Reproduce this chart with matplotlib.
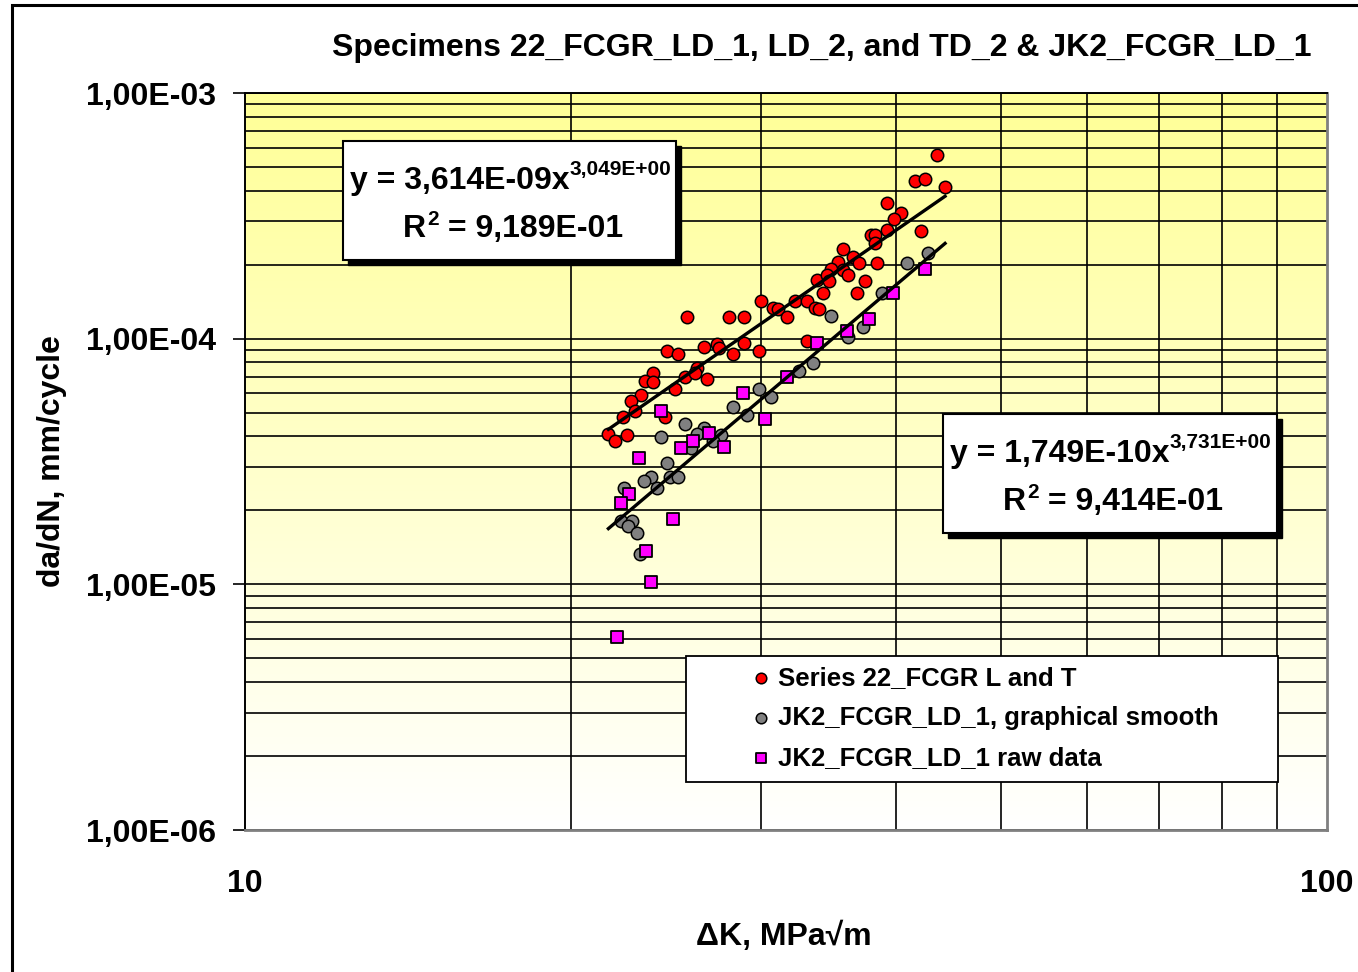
import numpy as np
import matplotlib
matplotlib.use("Agg")
import matplotlib.pyplot as plt
from matplotlib.patches import Rectangle
from matplotlib.ticker import FixedLocator, NullFormatter, FuncFormatter

plt.rcParams['font.family'] = ['Liberation Sans', 'DejaVu Sans']
plt.rcParams['font.weight'] = 'bold'

# Series 22_FCGR L and T: delta K (MPa*sqrt(m)) and da/dN (mm/cycle)
dk_22 = [43.59, 41.62, 42.52, 44.36, 39.19, 40.40, 39.82, 42.13, 39.19, 37.90,
         38.22, 38.22, 35.67, 36.50, 36.97, 38.36, 35.35, 34.78, 35.67, 36.12,
         33.76, 34.49, 34.67, 37.41, 34.20, 36.76, 29.96, 30.74, 31.11, 32.24,
         33.05, 33.64, 33.95, 31.67, 25.60, 28.03, 28.94, 33.05, 24.53, 25.15,
         26.58, 27.29, 27.42, 28.94, 28.23, 29.85, 23.81, 23.42, 23.81, 26.15,
         25.51, 26.06, 26.71, 24.97, 23.21, 22.72, 22.93, 22.34, 24.44, 21.67,
         21.98, 22.53]
dadn_22 = [5.59e-4, 4.38e-4, 4.47e-4, 4.15e-4, 3.58e-4, 3.26e-4, 3.07e-4, 2.75e-4, 2.77e-4, 2.64e-4,
           2.64e-4, 2.45e-4, 2.32e-4, 2.16e-4, 2.03e-4, 2.03e-4, 2.05e-4, 1.93e-4, 1.90e-4, 1.82e-4,
           1.73e-4, 1.82e-4, 1.71e-4, 1.72e-4, 1.53e-4, 1.53e-4, 1.42e-4, 1.33e-4, 1.32e-4, 1.42e-4,
           1.42e-4, 1.33e-4, 1.32e-4, 1.23e-4, 1.23e-4, 1.23e-4, 1.23e-4, 9.81e-5, 8.94e-5, 8.64e-5,
           9.27e-5, 9.49e-5, 9.14e-5, 9.63e-5, 8.64e-5, 8.91e-5, 7.28e-5, 6.72e-5, 6.64e-5, 7.57e-5,
           7.00e-5, 7.28e-5, 6.85e-5, 6.24e-5, 5.90e-5, 5.59e-5, 5.09e-5, 4.81e-5, 4.81e-5, 4.08e-5,
           3.84e-5, 4.05e-5]

# JK2_FCGR_LD_1, graphical smooth
dk_smooth = [42.81, 40.89, 38.82, 34.78, 37.24, 36.12, 33.48, 32.51, 29.85, 30.61,
             28.23, 29.12, 25.51, 26.58, 26.15, 27.54, 27.09, 25.84, 24.23, 24.53,
             23.71, 23.39, 24.70, 25.15, 24.01, 22.42, 22.25, 22.80, 22.61, 23.01,
             23.18]
dadn_smooth = [2.24e-4, 2.04e-4, 1.54e-4, 1.24e-4, 1.12e-4, 1.02e-4, 7.98e-5, 7.39e-5, 6.24e-5, 5.81e-5,
               5.28e-5, 4.89e-5, 4.48e-5, 4.32e-5, 4.08e-5, 4.05e-5, 3.83e-5, 3.58e-5, 3.99e-5, 3.13e-5,
               2.74e-5, 2.64e-5, 2.74e-5, 2.74e-5, 2.46e-5, 2.46e-5, 1.81e-5, 1.81e-5, 1.72e-5, 1.62e-5,
               1.33e-5]

# JK2_FCGR_LD_1 raw data
dk_raw = [42.52, 39.69, 37.76, 36.02, 33.76, 31.67, 28.84, 30.24, 24.23, 26.84,
          25.96, 25.28, 27.73, 23.13, 22.64, 22.25, 24.85, 23.50, 23.71, 22.05]
dadn_raw = [1.93e-4, 1.53e-4, 1.20e-4, 1.07e-4, 9.63e-5, 6.96e-5, 6.03e-5, 4.71e-5, 5.09e-5, 4.14e-5,
            3.83e-5, 3.58e-5, 3.63e-5, 3.26e-5, 2.33e-5, 2.15e-5, 1.85e-5, 1.37e-5, 1.02e-5, 6.12e-6]

# power-law trendlines y = C * x^m, with R^2
fit_22 = (3.614e-9, 3.049, 0.9189)
fit_jk2 = (1.749e-10, 3.731, 0.9414)

series_labels = ['Series 22_FCGR L and T',
                 'JK2_FCGR_LD_1, graphical smooth',
                 'JK2_FCGR_LD_1 raw data']

W, H = 1358, 972
fig = plt.figure(figsize=(W / 100, H / 100), dpi=100)
ax = fig.add_axes([245 / W, 1 - 830 / H, (1327 - 245) / W, (830 - 93) / H])
ftr = fig.transFigure


def fx(px):
    return px / W


def fy(py):
    return 1 - py / H


# outer chart frame
fig.patches.append(Rectangle((fx(12), fy(980)), 1.0, fy(5) - fy(980), transform=ftr,
                             fill=False, edgecolor='black', linewidth=2.2))

# yellow-to-white background of the plot area
grad = np.linspace(0, 1, 256)
cols = np.ones((256, 1, 3))
cols[:, 0, 2] = 0.59 + 0.41 * grad
ax.imshow(cols, extent=[0, 1, 0, 1], transform=ax.transAxes, aspect='auto',
          origin='upper', zorder=0)

ax.set_xscale('log')
ax.set_yscale('log')
ax.set_xlim(10, 100)
ax.set_ylim(1e-6, 1e-3)

# grid lines
for k in range(2, 10):
    ax.axvline(10 * k, color='black', lw=1.2, zorder=1)
for dec in [1e-6, 1e-5, 1e-4]:
    for k in range(1, 10):
        ax.axhline(dec * k, color='black', lw=1.2, zorder=1)
ax.axhline(1e-3, color='black', lw=1.4, zorder=1)

# data
ax.scatter(dk_22, dadn_22, s=80, marker='o', facecolor='#ff0000', edgecolor='black',
           linewidth=1.1, zorder=4, label=series_labels[0])
ax.scatter(dk_smooth, dadn_smooth, s=80, marker='o', facecolor='#808080', edgecolor='black',
           linewidth=1.1, zorder=3, label=series_labels[1])
ax.scatter(dk_raw, dadn_raw, s=68, marker='s', facecolor='#ff00ff', edgecolor='black',
           linewidth=1.3, zorder=5, label=series_labels[2])

# trendlines over the range of delta K
xfit = np.linspace(min(dk_22), max(dk_22), 50)
ax.plot(xfit, fit_22[0] * xfit ** fit_22[1], color='black', lw=2.4, zorder=6)
ax.plot(xfit, fit_jk2[0] * xfit ** fit_jk2[1], color='black', lw=2.4, zorder=6)

# axes styling
for side in ['left', 'top']:
    ax.spines[side].set_color('black')
    ax.spines[side].set_linewidth(1.4)
for side in ['right', 'bottom']:
    ax.spines[side].set_color('#808080')
    ax.spines[side].set_linewidth(2)

ax.yaxis.set_major_locator(FixedLocator([1e-6, 1e-5, 1e-4, 1e-3]))
ax.yaxis.set_minor_formatter(NullFormatter())
ax.yaxis.set_major_formatter(FuncFormatter(lambda v, p: ('%.2E' % v).replace('.', ',')))
ax.tick_params(axis='y', which='major', length=9, width=1.2, pad=12, labelsize=23)
ax.tick_params(axis='y', which='minor', length=0)
ax.xaxis.set_major_locator(FixedLocator([10, 100]))
ax.xaxis.set_minor_formatter(NullFormatter())
ax.xaxis.set_major_formatter(FuncFormatter(lambda v, p: '%d' % v))
ax.tick_params(axis='x', which='both', length=0, pad=28, labelsize=23)
for lbl in ax.get_xticklabels() + ax.get_yticklabels():
    lbl.set_fontweight('bold')

fig.text(fx(822), fy(48), 'Specimens 22_FCGR_LD_1, LD_2, and TD_2 & JK2_FCGR_LD_1',
         ha='center', va='center', fontsize=23, fontweight='bold')
fig.text(fx(52), fy(461), 'da/dN, mm/cycle', rotation=90, ha='center', va='center',
         fontsize=23, fontweight='bold')
fig.text(fx(784), fy(937), 'ΔK, MPa√m', ha='center', va='center',
         fontsize=23, fontweight='bold')


def eq_box(x0, y0, x1, y1, fit, line1_x, line1_y, line2_x, line2_y):
    # shadowed white box with trendline equation and R^2
    sh = 5
    ax.add_patch(Rectangle((fx(x0 + sh), fy(y1 + sh)), fx(x1) - fx(x0), fy(y0) - fy(y1),
                           transform=ftr, facecolor='black', edgecolor='black',
                           zorder=7, clip_on=False))
    ax.add_patch(Rectangle((fx(x0), fy(y1)), fx(x1) - fx(x0), fy(y0) - fy(y1),
                           transform=ftr, facecolor='white', edgecolor='black',
                           linewidth=1.5, zorder=8, clip_on=False))
    c, m, r2 = fit
    mant, ex = ('%.3E' % c).split('E')
    t1 = ax.text(fx(line1_x), fy(line1_y), 'y = %sE%sx' % (mant.replace('.', ','), ex),
                 transform=ftr, ha='left', va='center', fontsize=23, fontweight='bold',
                 zorder=9, clip_on=False)
    ax.annotate(('%.3E' % m).replace('.', ','), xy=(1, 1.2), xycoords=t1, ha='left', va='top',
                fontsize=15, fontweight='bold', zorder=9, annotation_clip=False)
    t2 = ax.text(fx(line2_x), fy(line2_y), 'R', transform=ftr, ha='left', va='center',
                 fontsize=23, fontweight='bold', zorder=9, clip_on=False)
    s2 = ax.annotate('2', xy=(1, 1.12), xycoords=t2, xytext=(1, 0), textcoords='offset points',
                     ha='left', va='top', fontsize=15, fontweight='bold', zorder=9,
                     annotation_clip=False)
    ax.annotate(' = ' + ('%.3E' % r2).replace('.', ','), xy=(1, 0), xycoords=(s2, t2),
                ha='left', va='bottom', fontsize=23, fontweight='bold', zorder=9,
                annotation_clip=False)


eq_box(343, 141, 676, 260, fit_22, 350, 181, 403, 229)
eq_box(943, 414, 1277, 533, fit_jk2, 950, 454, 1003, 502)

# legend panel
ax.add_patch(Rectangle(((686 - 245) / 1082, (830 - 782) / 737), (1278 - 686) / 1082,
                       (782 - 656) / 737, transform=ax.transAxes, facecolor='white',
                       edgecolor='black', linewidth=1.3, zorder=7))
leg = ax.legend(loc='center left', bbox_to_anchor=((751 - 245) / 1082, (830 - 718) / 737),
                frameon=False, fontsize=18.5, markerscale=0.85, handlelength=0.8,
                handletextpad=0.25, borderpad=0, borderaxespad=0, labelspacing=0.62,
                scatterpoints=1)
leg.set_zorder(8)
for t in leg.get_texts():
    t.set_fontweight('bold')

fig.savefig('out.png', dpi=100)
